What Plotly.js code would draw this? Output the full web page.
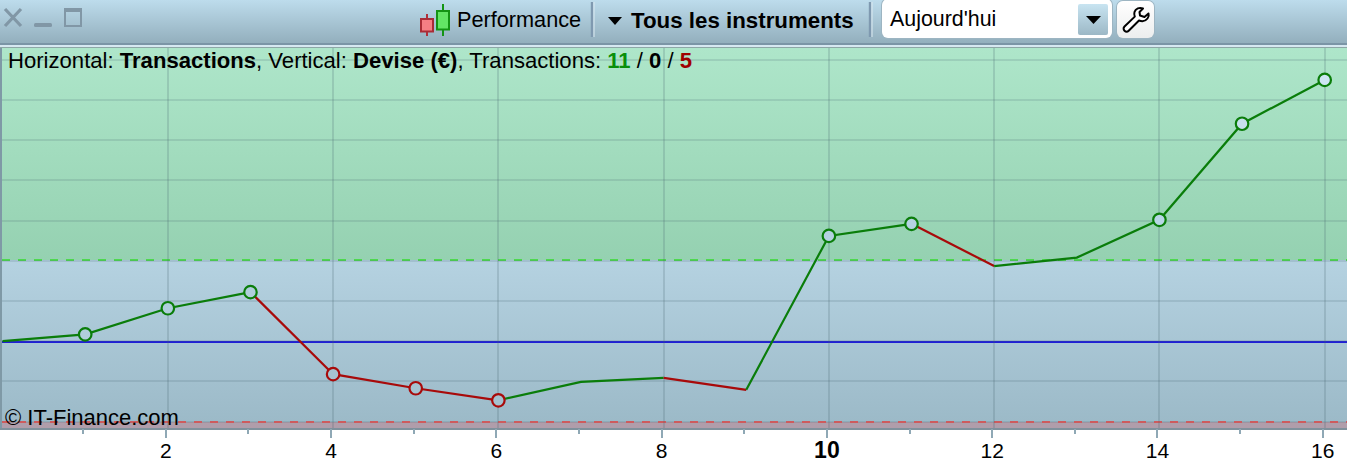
<!DOCTYPE html>
<html>
<head>
<meta charset="utf-8">
<script src="https://cdn.plot.ly/plotly-3.0.1.min.js"></script>
<style>
html,body{margin:0;padding:0;background:#fff;width:1347px;height:463px;overflow:hidden}
#stage{position:relative;width:1347px;height:463px;overflow:hidden}
.abs{position:absolute}
#bar{left:0;top:0;width:1347px;height:43px;background:linear-gradient(#bddcec,#93afbd)}
#sep{left:0;top:43px;width:1347px;height:5px;background:linear-gradient(#7b95a6 0,#7b95a6 30%,#d6e8f1 30%,#d6e8f1 70%,#8ea7a6 70%)}
#green{left:2px;top:48px;width:1345px;height:212px;background:linear-gradient(#aee6ca,#95d1b1)}
#blue{left:2px;top:260px;width:1345px;height:168px;background:linear-gradient(#b5d2e1,#9bb9c7)}
#dd{left:882px;top:-1px;width:230px;height:39px;background:#fff;border-radius:6px;box-shadow:0 0 0 1px #9db5c2}
#ddb{left:1078px;top:4px;width:30px;height:31px;background:linear-gradient(#c8e4f1,#9cb8c6);border-radius:2px}
#wr{left:1117px;top:1px;width:37px;height:37px;background:linear-gradient(#fff,#eceeee);border-radius:6px;box-shadow:0 0 0 1px #9db5c2}
#ico{left:0;top:0}
#gd{position:absolute;left:0;top:0;width:1347px;height:463px}
</style>
</head>
<body>
<div id="stage">
  <div class="abs" id="bar"></div>
  <div class="abs" id="sep"></div>
  <div class="abs" id="green"></div>
  <div class="abs" id="blue"></div>
  <div class="abs" id="dd"></div>
  <div class="abs" id="ddb"></div>
  <div class="abs" id="wr"></div>
  <svg class="abs" id="ico" width="1347" height="46">
    <g fill="none" stroke="#8197a6" stroke-width="3.2"><path d="M5 9L21 26M21 9L5 26"/></g>
    <rect x="34" y="23" width="18" height="4" rx="1.5" fill="#8197a6"/>
    <rect x="65" y="9" width="16" height="17" fill="none" stroke="#8197a6" stroke-width="2"/>
    <rect x="65" y="9" width="16" height="3" fill="#8197a6"/>
    <path d="M427 14V36" stroke="#b0303a" stroke-width="2"/>
    <rect x="421" y="19" width="12" height="12.5" fill="#f57e84" stroke="#a92c36" stroke-width="2"/>
    <path d="M443 4V36" stroke="#149414" stroke-width="2"/>
    <rect x="437" y="11" width="12" height="18.5" fill="#63e665" stroke="#149414" stroke-width="2"/>
    <path d="M592 2V37" stroke="#7f99b0" stroke-width="2.4"/><path d="M594 2V37" stroke="#dceaf2" stroke-width="1"/>
    <path d="M870 2V37" stroke="#7f99b0" stroke-width="2.4"/><path d="M872 2V37" stroke="#dceaf2" stroke-width="1"/>
    <path d="M608 17H622L615 25Z" fill="#000"/>
    <path d="M1086 16H1101L1093.5 24Z" fill="#000"/>
    <path d="M1143 8.5c-3.5-1.5-7.5 0-8.5 3.5c-.5 1.7-.3 3.2.3 4.6L1124.5 26.5c-1.6 1.6-.8 3.4 0 4.2c1 1 2.700 1.500 4.200 0L1139 20.500c3 1.200 6.500.6 8.500-2c1.200-1.500 1.500-3.500 1-5l-4 3.500l-4.500-1.500l-.5-3.500z" fill="#fff" stroke="#000" stroke-width="2" stroke-linejoin="round"/>
  </svg>
  <div id="gd"></div>
</div>
<script>
// ---- data (vertical axis in grid units; it carries no labels)
var transactions = [0,1,2,3,4,5,6,7,8,9,10,11,12,13,14,15,16];
var equity = [0,0.17,0.82,1.22,-0.82,-1.17,-1.47,-1.01,-0.91,-1.21,2.62,2.92,1.87,2.08,3.02,5.41,6.50];
var winMarkers = [1,2,3,10,11,14,15,16];
var lossMarkers = [4,5,6];
var winFills = ['#b0cedc','#b0cedc','#b0cedc','#b4d1e0','#b5d3e2','#b8d6e5','#c7e0ed','#cde6f3'];
var lossFills = ['#a6c4d2','#a5c3d1','#a4c2d0'];
var majorTicks = [2,4,6,8,10,12,14,16];
var majorLabels = ['2','4','6','8','<b style="font-size:23px">10</b>','12','14','16'];
var minorTicks = [1,3,5,7,9,11,13,15];
var profitLevel = 2.02, zeroLevel = -0.02, lossLevel = -2.01;

var GREEN = '#0a7d0a', RED = '#a80a0a';
var W = 1347, H = 463, L = 2, R = 0, T = 48, B = 35;
var xRange = [-0.007, 16.27], yRange = [-2.159, 7.294];
var tickShift = 0.024;

function px(p){return (p-L)/(W-L-R);}
function py(p){return (H-B-p)/(H-T-B);}
function ann(text,x,y,size,anchor){
  return {text:text,xref:'paper',yref:'paper',x:px(x),y:py(y),xanchor:anchor||'left',yanchor:'middle',
    showarrow:false,borderpad:0,borderwidth:0,font:{family:'"Liberation Sans",Arial,sans-serif',size:size,color:'#000'}};
}

var traces = [];
// runs of rising / falling segments
var start = 0;
for (var i=1;i<equity.length;i++){
  var up = equity[i]>=equity[i-1];
  var nextUp = i+1<equity.length ? equity[i+1]>=equity[i] : !up;
  if (up!==nextUp){
    traces.push({x:transactions.slice(start,i+1),y:equity.slice(start,i+1),mode:'lines',type:'scatter',
      line:{color:up?GREEN:RED,width:2.2},hoverinfo:'skip',showlegend:false});
    start = i;
  }
}
function pick(list){return list.map(function(t){return equity[transactions.indexOf(t)];});}
traces.push({x:winMarkers,y:pick(winMarkers),mode:'markers',type:'scatter',showlegend:false,hoverinfo:'skip',
  marker:{size:12.5,color:winFills,line:{color:GREEN,width:2.2}}});
traces.push({x:lossMarkers,y:pick(lossMarkers),mode:'markers',type:'scatter',showlegend:false,hoverinfo:'skip',
  marker:{size:12.5,color:lossFills,line:{color:RED,width:2.2}}});
// invisible trace keeps the tick axis alive
traces.push({x:[majorTicks[0]],y:[zeroLevel],xaxis:'x2',mode:'markers',type:'scatter',showlegend:false,hoverinfo:'skip',marker:{opacity:0,size:1}});

var layout = {
  width:W,height:H,margin:{l:L,r:R,t:T,b:B,pad:0},
  paper_bgcolor:'rgba(0,0,0,0)',plot_bgcolor:'rgba(0,0,0,0)',
  showlegend:false,
  font:{family:'"Liberation Sans",Arial,sans-serif',color:'#000'},
  xaxis:{range:xRange,dtick:1,tick0:0,tickvals:majorTicks,showticklabels:false,ticks:'',showgrid:true,
    gridcolor:'rgba(70,100,110,0.2)',gridwidth:2,zeroline:false,showline:true,linecolor:'#7f919c',linewidth:2,layer:'below traces'},
  xaxis2:{overlaying:'x',range:[xRange[0]+tickShift,xRange[1]+tickShift],anchor:'y',side:'bottom',
    tickmode:'array',tickvals:majorTicks,ticktext:majorLabels,ticks:'outside',ticklen:9,tickwidth:2,tickcolor:'#8fa8b5',
    ticklabelstandoff:-5,
    minor:{tickvals:minorTicks,ticks:'outside',ticklen:5,tickwidth:2,tickcolor:'#8fa8b5',showgrid:false},
    showgrid:false,zeroline:false,showline:false,tickfont:{size:21,color:'#000',family:'"Liberation Sans",Arial,sans-serif'}},
  yaxis:{range:yRange,dtick:1,tick0:0,showticklabels:false,ticks:'',showgrid:true,gridcolor:'rgba(70,100,110,0.17)',gridwidth:2,
    zeroline:false,showline:true,linecolor:'#7f99a6',linewidth:2,layer:'below traces'},
  shapes:[
    {type:'rect',xref:'paper',yref:'y',x0:0,x1:1,y0:yRange[0],y1:lossLevel,fillcolor:'rgba(205,120,130,0.42)',line:{width:0},layer:'below'},
    {type:'line',xref:'paper',yref:'y',x0:0,x1:1,y0:profitLevel,y1:profitLevel,line:{color:'#4ed84e',width:2,dash:'8px,8px'},layer:'below'},
    {type:'line',xref:'paper',yref:'y',x0:0,x1:1,y0:lossLevel,y1:lossLevel,line:{color:'#ea5a5a',width:2,dash:'8px,8px'},layer:'below'},
    {type:'line',xref:'paper',yref:'y',x0:0,x1:1,y0:zeroLevel,y1:zeroLevel,line:{color:'#1f1fd6',width:2},layer:'below'}
  ],
  annotations:[
    ann('Horizontal: <b>Transactions</b>, Vertical: <b>Devise (€)</b>, Transactions: <b><span style="color:#0a8f0a">11</span></b> / <b>0</b> / <b><span style="color:#a00000">5</span></b>',8,60.5,22.1),
    ann('© IT-Finance.com',5,417,22),
    ann('Performance',457,19,21.7),
    ann('<b>Tous les instruments</b>',631,21,22.3),
    ann("Aujourd'hui",890,19,21.4)
  ]
};
Plotly.newPlot('gd',traces,layout,{displayModeBar:false,staticPlot:true});
</script>
</body>
</html>
